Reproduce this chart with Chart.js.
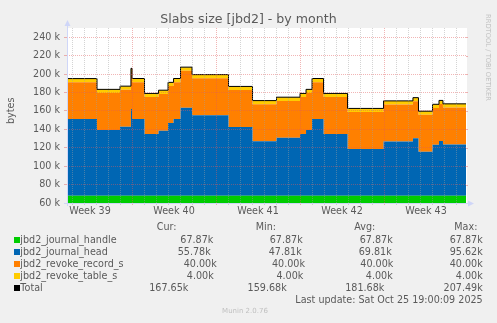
<!DOCTYPE html>
<html>
<head>
<meta charset="utf-8">
<script src="https://cdn.jsdelivr.net/npm/chart.js@4/dist/chart.umd.min.js"></script>
<style>
  body { margin: 0; background: #f0f0f0; width: 497px; height: 323px; overflow: hidden; position: relative;
         font-family: 'DejaVu Sans', sans-serif; color: #5a5a5a; }
  #wrap { position: absolute; left: 0; top: 0; width: 497px; height: 230px; }
  .t { position: absolute; white-space: nowrap; font-size: 9.6px; line-height: 12px; }
  .sw { position: absolute; width: 6px; height: 6px; }
</style>
</head>
<body>
<div id="wrap"><canvas id="c" width="497" height="230"></canvas></div>
<div class="t" style="left:0;width:497px;text-align:center;top:11.4px;font-size:12.6px;line-height:15px;">Slabs size [jbd2] - by month</div>
<div class="t" style="left:-1px;top:106px;transform:rotate(-90deg);transform-origin:center;width:24px;text-align:center;">bytes</div>
<div class="t" style="left:492px;top:14px;font-size:6.75px;line-height:8px;color:#c4c4c4;transform:rotate(90deg);transform-origin:left top;">RRDTOOL / TOBI OETIKER</div>
<div id="legend"></div>
<div class="t" style="left:0;width:490px;text-align:center;top:307px;font-size:7px;line-height:9px;color:#c0c0c0;">Munin 2.0.76</div>
<script>
// x positions in days from the left edge of the graph, each value held until the next point
var days          = [0, 2.5, 4.42, 5.33, 5.42, 6.46, 7.63, 8.42, 8.88, 9.46, 10.42, 13.46, 15.46, 17.46, 19.42, 19.92, 20.42, 21.38, 23.38, 26.38, 28.83, 29.29, 30.46, 31.0, 31.33, 33.25];
var journalHandle = [67.87, 67.87, 67.87, 67.87, 67.87, 67.87, 67.87, 67.87, 67.87, 67.87, 67.87, 67.87, 67.87, 67.87, 67.87, 67.87, 67.87, 67.87, 67.87, 67.87, 67.87, 67.87, 67.87, 67.87, 67.87, 67.87];
var journalHead   = [83.2, 71.5, 75.0, 94.3, 83.3, 67.1, 70.6, 79.1, 83.3, 95.62, 87.5, 74.7, 59.3, 63.0, 67.1, 71.5, 83.3, 67.1, 50.8, 59.0, 62.5, 47.81, 55.3, 59.5, 55.78, 55.78];
var revokeRecord  = [40, 40, 40, 40, 40, 40, 40, 40, 40, 40, 40, 40, 40, 40, 40, 40, 40, 40, 40, 40, 40, 40, 40, 40, 40, 40];
var revokeTable   = [4, 4, 4, 4, 4, 4, 4, 4, 4, 4, 4, 4, 4, 4, 4, 4, 4, 4, 4, 4, 4, 4, 4, 4, 4, 4];

var seriesNames  = ['jbd2_journal_handle', 'jbd2_journal_head', 'jbd2_revoke_record_s', 'jbd2_revoke_table_s', 'Total'];
var seriesColors = ['#00cc00', '#0066b3', '#ff8000', '#ffcc00', '#000000'];
var curVals = [67.87, 55.78, 40.00, 4.00, 167.65];
var minVals = [67.87, 47.81, 40.00, 4.00, 159.68];
var avgVals = [67.87, 69.81, 40.00, 4.00, 181.68];
var maxVals = [67.87, 95.62, 40.00, 4.00, 207.49];
var colHeaders = ['Cur:', 'Min:', 'Avg:', 'Max:'];
var lastUpdate = 'Last update: Sat Oct 25 19:00:09 2025';

var weekStarts = [-1.58, 5.42, 12.42, 19.42, 26.42];
var weekLabels = ['Week 39', 'Week 40', 'Week 41', 'Week 42', 'Week 43'];
var xMin = 0, xMax = 33.25;
var yMin = 60, yMax = 250, yStep = 10, yLabelStep = 20;

var GRID = 'rgba(160,160,160,0.45)';
var MGRID = 'rgba(225,90,90,0.45)';
var AXIS = '#cfd6f8';
var FONT = { family: 'DejaVu Sans', size: 9.6 };

function pts(vals) {
  return days.map(function (d, i) { return { x: d, y: vals[i] }; });
}
var total = days.map(function (d, i) {
  return journalHandle[i] + journalHead[i] + revokeRecord[i] + revokeTable[i];
});

function halfDayIndex(v) { return Math.round((v - weekStarts[0]) * 2); }

var frame = {
  id: 'frame',
  beforeDraw: function (chart) {
    var a = chart.chartArea, ctx = chart.ctx;
    ctx.save();
    ctx.fillStyle = '#ffffff';
    ctx.fillRect(a.left, a.top, a.right - a.left + 1, a.bottom - a.top);
    ctx.restore();
  },
  afterDraw: function (chart) {
    var a = chart.chartArea, ctx = chart.ctx, ys = chart.scales.y;
    ctx.save();
    // small ticks on the right edge
    ys.ticks.forEach(function (t) {
      var y = Math.round(ys.getPixelForValue(t.value)) + 0.5;
      ctx.strokeStyle = t.value % yLabelStep === 0 ? MGRID : GRID;
      ctx.beginPath();
      ctx.moveTo(a.right, y);
      ctx.lineTo(a.right + 2, y);
      ctx.stroke();
    });
    ctx.strokeStyle = AXIS;
    ctx.fillStyle = AXIS;
    ctx.lineWidth = 1;
    ctx.beginPath();
    ctx.moveTo(a.left - 3, a.bottom + 0.5);
    ctx.lineTo(a.right + 3, a.bottom + 0.5);
    ctx.moveTo(a.left + 0.5, a.bottom + 3);
    ctx.lineTo(a.left + 0.5, a.top - 3);
    ctx.stroke();
    // arrows
    ctx.beginPath();
    ctx.moveTo(a.right + 2, a.bottom - 2.5);
    ctx.lineTo(a.right + 8, a.bottom + 0.5);
    ctx.lineTo(a.right + 2, a.bottom + 3.5);
    ctx.closePath();
    ctx.fill();
    ctx.beginPath();
    ctx.moveTo(a.left - 2.5, a.top - 2);
    ctx.lineTo(a.left + 0.5, a.top - 8);
    ctx.lineTo(a.left + 3.5, a.top - 2);
    ctx.closePath();
    ctx.fill();
    ctx.restore();
  }
};

var area = function (i, vals, fill) {
  return {
    label: seriesNames[i], data: pts(vals), stack: 'slabs', fill: fill,
    backgroundColor: seriesColors[i], borderColor: seriesColors[i], borderWidth: 0,
    pointRadius: 0, stepped: true
  };
};

new Chart(document.getElementById('c'), {
  type: 'line',
  data: {
    datasets: [
      area(0, journalHandle, 'start'),
      area(1, journalHead, '-1'),
      area(2, revokeRecord, '-1'),
      area(3, revokeTable, '-1'),
      { label: 'Total', data: pts(total), stack: 'total', fill: false, order: -1,
        borderColor: '#000', borderWidth: 1, pointRadius: 0, stepped: true }
    ]
  },
  options: {
    responsive: false,
    animation: false,
    layout: { padding: { top: 28, right: 31, left: 0, bottom: 0 } },
    plugins: { legend: { display: false }, tooltip: { enabled: false } },
    scales: {
      x: {
        type: 'linear', min: xMin, max: xMax,
        afterBuildTicks: function (s) {
          var t = [];
          for (var k = 0; ; k++) {
            var v = weekStarts[0] + k / 2;
            if (v > xMax) break;
            if (v >= xMin) t.push({ value: v });
          }
          s.ticks = t;
        },
        afterFit: function (s) { s.height = 27; },
        ticks: {
          autoSkip: false, maxRotation: 0, padding: 1, color: '#5a5a5a', font: FONT,
          callback: function (v) {
            var h = halfDayIndex(v);
            return h % 14 === 7 ? weekLabels[(h - 7) / 14] : '';
          }
        },
        grid: {
          z: 1, tickLength: 2,
          color: function (c) {
            var h = halfDayIndex(c.tick.value);
            if (h % 14 === 0) return MGRID;
            if (h % 2 === 0) return GRID;
            return 'rgba(0,0,0,0)';
          }
        },
        border: { display: false, dash: [1, 1] }
      },
      y: {
        stacked: true, min: yMin, max: yMax,
        afterFit: function (s) { s.width = 67; },
        ticks: {
          stepSize: yStep, padding: 4, color: '#5a5a5a', font: FONT,
          callback: function (v) { return v % yLabelStep === 0 ? v + ' k' : ''; }
        },
        grid: {
          z: 1, tickLength: 3,
          color: function (c) {
            return c.tick.value % yLabelStep === 0 ? MGRID : GRID;
          }
        },
        border: { display: false, dash: [1, 1] }
      }
    }
  },
  plugins: [frame]
});

// legend table below the graph
var legend = document.getElementById('legend');
function text(str, left, top, right) {
  var d = document.createElement('div');
  d.className = 't';
  d.textContent = str;
  d.style.top = top + 'px';
  if (right !== undefined) d.style.right = (497 - right) + 'px';
  else d.style.left = left + 'px';
  legend.appendChild(d);
}
var headerLeft = [156.7, 255.7, 354.3, 454.3];
var colRight = [
  [213.3, 302.7, 392.7, 482.7],
  [210.7, 301.7, 391.7, 482.7],
  [216.7, 305.0, 393.3, 482.7],
  [213.7, 303.3, 392.7, 482.7],
  [188.3, 286.7, 384.3, 482.7]
];
colHeaders.forEach(function (h, j) { text(h, headerLeft[j], 221.2); });
seriesNames.forEach(function (name, i) {
  var base = 243.5 + i * 11.95;
  var sw = document.createElement('div');
  sw.className = 'sw';
  sw.style.left = '14px';
  sw.style.top = (base - 6.5) + 'px';
  sw.style.background = seriesColors[i];
  legend.appendChild(sw);
  text(name, 20.3, base - 9.3);
  [curVals, minVals, avgVals, maxVals].forEach(function (vals, j) {
    text(vals[i].toFixed(2) + 'k', 0, base - 9.3, colRight[i][j]);
  });
});
text(lastUpdate, 0, 293.5, 482.7);
</script>
</body>
</html>
